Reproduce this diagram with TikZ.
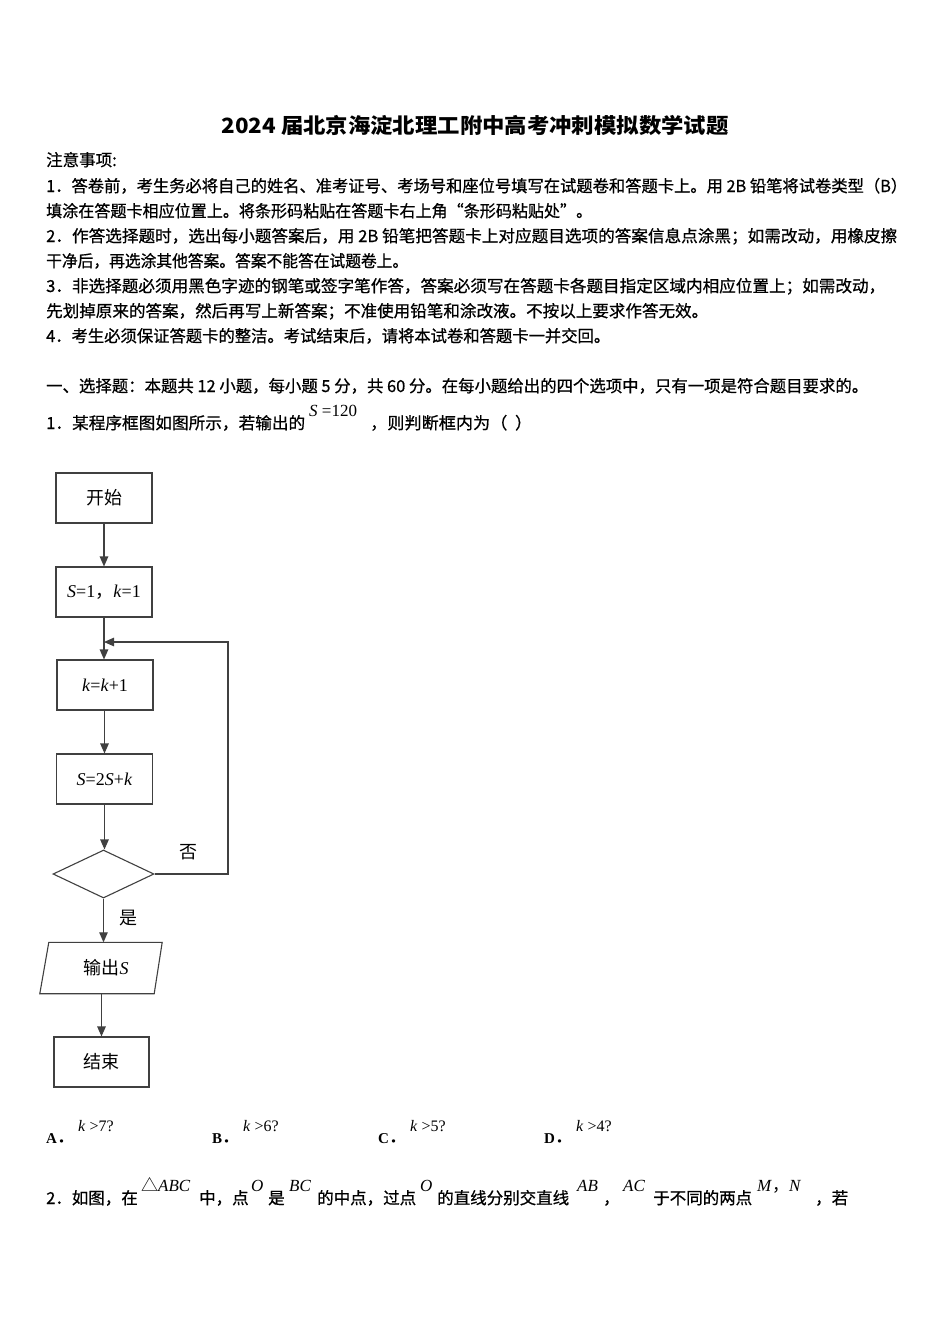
\documentclass[tikz,border=0pt]{standalone}
\usepackage{fontspec}
\usepackage{graphicx}
\setmainfont{Liberation Serif}
\newfontfamily\cjk{Noto Sans CJK SC}
\newfontfamily\cjkh{Noto Sans CJK SC}[FakeBold=0.7]
\usetikzlibrary{arrows.meta,shapes.geometric,calc}
\newcommand\fitto[2]{\resizebox{#1pt}{\height}{#2}}
\newcommand\bodyf{\cjkh\fontsize{16.5}{16.5}\selectfont}
\newcommand\fcf{\cjk\fontsize{18}{18}\selectfont}
\newcommand\mathf{\rmfamily\fontsize{17}{17}\selectfont}
\tikzset{
  fbox/.style={draw=black!75, line width=1.1pt, minimum width=96pt, minimum height=50pt, inner sep=0pt, font=\fcf},
  arr/.style={draw=black!75, line width=1.1pt, -{Triangle[length=10pt,width=8.5pt]}},
  txt/.style={anchor=base west, inner sep=0pt, font=\bodyf},
  mth/.style={anchor=base west, inner sep=0pt, font=\mathf},
  opt/.style={anchor=base west, inner sep=0pt, font=\rmfamily\bfseries\fontsize{15}{15}\selectfont},
  lbl/.style={inner sep=0pt, font=\fcf}
}
\begin{document}
\begin{tikzpicture}[x=1pt,y=-1pt]
\fill[white] (0,0) rectangle (950,1344);
\useasboundingbox (0,0) rectangle (950,1344);

% title
\node[anchor=base, inner sep=0pt, font=\cjk\bfseries\fontsize{21}{21}\selectfont] (title) at (475,133)
  {\fitto{507}{2024 届北京海淀北理工附中高考冲刺模拟数学试题}};

% notes
\node[txt] (n0) at (46,166) {注意事项:};
\node[txt] (n1) at (46,192) {\fitto{861}{1．答卷前，考生务必将自己的姓名、准考证号、考场号和座位号填写在试题卷和答题卡上。用 2B 铅笔将试卷类型（B）}};
\node[txt] (n2) at (46,217) {\fitto{546}{填涂在答题卡相应位置上。将条形码粘贴在答题卡右上角“条形码粘贴处”。}};
\node[txt] (n3) at (46,242) {\fitto{851}{2．作答选择题时，选出每小题答案后，用 2B 铅笔把答题卡上对应题目选项的答案信息点涂黑；如需改动，用橡皮擦}};
\node[txt] (n4) at (46,267) {\fitto{362}{干净后，再选涂其他答案。答案不能答在试题卷上。}};
\node[txt] (n5) at (46,292) {\fitto{839}{3．非选择题必须用黑色字迹的钢笔或签字笔作答，答案必须写在答题卡各题目指定区域内相应位置上；如需改动，}};
\node[txt] (n6) at (46,317) {\fitto{662}{先划掉原来的答案，然后再写上新答案；不准使用铅笔和涂改液。不按以上要求作答无效。}};
\node[txt] (n7) at (46,342) {\fitto{564}{4．考生必须保证答题卡的整洁。考试结束后，请将本试卷和答题卡一并交回。}};

% section
\node[txt] (sec) at (46,392) {\fitto{822}{一、选择题：本题共 12 小题，每小题 5 分，共 60 分。在每小题给出的四个选项中，只有一项是符合题目要求的。}};

% question 1
\node[txt] (q1a) at (46,429) {\fitto{259}{1．某程序框图如图所示，若输出的}};
\node[mth] (q1m) at (309,416) {\textit{S} =120};
\node[txt] (q1b) at (370,429) {\fitto{162}{，则判断框内为（ \ ）}};

% flowchart
\node[fbox] (start) at (104,498) {开始};
\node[fbox, font=\rmfamily\fontsize{18}{18}\selectfont] (init) at (104,592) {\textit{S}=1{\cjk，}\textit{k}=1};
\node[fbox, font=\rmfamily\fontsize{18}{18}\selectfont] (inc) at (105,685) {\textit{k}=\textit{k}+1};
\node[fbox, font=\rmfamily\fontsize{18}{18}\selectfont] (upd) at (104.5,779) {\textit{S}=2\textit{S}+\textit{k}};
\node[diamond, draw=black!75, line width=1.1pt, minimum width=101pt, minimum height=48pt, aspect=2.1, inner sep=0pt] (dec) at (103.5,874) {};
\node[minimum width=112pt, minimum height=51pt, inner sep=0pt, font=\fcf] (out) at (106,968) {输出{\rmfamily\itshape S}};
\draw[draw=black!75, line width=1.1pt] ($(out.north west)+(-1,0)$) -- ($(out.north east)$) -- ($(out.south east)+(-8,0)$) -- ($(out.south west)+(-10,0)$) -- cycle;
\node[fbox, minimum width=95pt] (end) at (101.5,1062) {结束};

\coordinate (j) at (104,642);
\coordinate (lp) at (228,642);

\draw[arr] (start.south) -- (start.south |- init.north);
\draw[arr] (init.south) -- (init.south |- inc.north);
\draw[arr] (inc.south -| upd.north) -- (upd.north);
\draw[arr] (upd.south) -- (upd.south |- dec.north);
\draw[arr] (dec.south) -- (dec.south |- out.north);
\draw[arr] (out.south -| end.north) -- (end.north);
\draw[arr] (dec.east) -| (lp) -- (j);

\node[lbl] (no) at (188,852) {否};
\node[lbl] (yes) at (128,918) {是};

% options
\node[opt] (oa) at (46,1143) {A{\cjk．}};
\node[mth, font=\rmfamily\fontsize{16}{16}\selectfont] (ma) at (78,1131) {\textit{k} {\textgreater}7?};
\node[opt] (ob) at (212,1143) {B{\cjk．}};
\node[mth, font=\rmfamily\fontsize{16}{16}\selectfont] (mb) at (243,1131) {\textit{k} {\textgreater}6?};
\node[opt] (oc) at (378,1143) {C{\cjk．}};
\node[mth, font=\rmfamily\fontsize{16}{16}\selectfont] (mc) at (410,1131) {\textit{k} {\textgreater}5?};
\node[opt] (od) at (544,1143) {D{\cjk．}};
\node[mth, font=\rmfamily\fontsize{16}{16}\selectfont] (md) at (576,1131) {\textit{k} {\textgreater}4?};

% question 2
\node[txt] (q2a) at (46,1204) {2．如图，在};
\node[mth] (q2m1) at (141,1191) {{\cjk △}\textit{ABC}};
\node[txt] (q2b) at (199,1204) {中，点};
\node[mth] (q2m2) at (251,1191) {\textit{O}};
\node[txt] (q2c) at (268,1204) {是};
\node[mth] (q2m3) at (289,1191) {\textit{BC}};
\node[txt] (q2d) at (317,1204) {的中点，过点};
\node[mth] (q2m4) at (420,1191) {\textit{O}};
\node[txt] (q2e) at (437,1204) {的直线分别交直线};
\node[mth] (q2m5) at (577,1191) {\textit{AB}};
\node[txt] (q2f) at (603,1204) {，};
\node[mth] (q2m6) at (623,1191) {\textit{AC}};
\node[txt] (q2g) at (653,1204) {于不同的两点};
\node[mth] (q2m7) at (757,1191) {\textit{M}{\cjk，}\textit{N}};
\node[txt] (q2h) at (815,1204) {，若};
\end{tikzpicture}
\end{document}
